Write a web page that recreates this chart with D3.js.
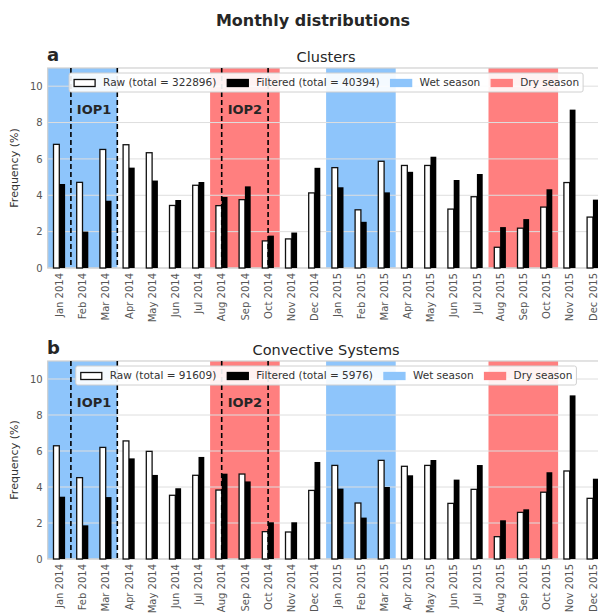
<!DOCTYPE html>
<html>
<head>
<meta charset="utf-8">
<script src="https://cdn.jsdelivr.net/npm/d3@7"></script>
<style>
  body { margin: 0; background: #fff; }
  svg { display: block; font-family: "DejaVu Sans", sans-serif; }
</style>
</head>
<body>
<svg id="chart" width="598" height="613"></svg>
<script>
var months = ["Jan 2014", "Feb 2014", "Mar 2014", "Apr 2014", "May 2014", "Jun 2014",
              "Jul 2014", "Aug 2014", "Sep 2014", "Oct 2014", "Nov 2014", "Dec 2014",
              "Jan 2015", "Feb 2015", "Mar 2015", "Apr 2015", "May 2015", "Jun 2015",
              "Jul 2015", "Aug 2015", "Sep 2015", "Oct 2015", "Nov 2015", "Dec 2015"];

// Frequency (%) per month
var rawClusters = [6.80, 4.71, 6.52, 6.78, 6.34, 3.44, 4.55, 3.43, 3.76, 1.49, 1.60, 4.13,
                   5.52, 3.20, 5.87, 5.64, 5.64, 3.24, 3.92, 1.14, 2.19, 3.35, 4.70, 2.80];
var filtClusters = [4.62, 2.00, 3.70, 5.52, 4.81, 3.74, 4.73, 3.91, 4.49, 1.78, 1.95, 5.51,
                    4.44, 2.54, 4.16, 5.29, 6.12, 4.84, 5.17, 2.25, 2.69, 4.33, 8.71, 3.76];
var rawCS = [6.29, 4.52, 6.20, 6.56, 5.98, 3.54, 4.65, 3.83, 4.72, 1.52, 1.50, 3.81,
             5.20, 3.11, 5.48, 5.15, 5.20, 3.09, 3.87, 1.24, 2.59, 3.71, 4.89, 3.37];
var filtCS = [3.46, 1.87, 3.44, 5.59, 4.67, 3.93, 5.67, 4.74, 4.31, 2.04, 2.04, 5.39,
              3.91, 2.30, 4.00, 4.65, 5.50, 4.41, 5.22, 2.15, 2.76, 4.82, 9.09, 4.46];

var totals = { clusters: [322896, 40394], cs: [91609, 5976] };

// season spans and IOP limits, in month-index units
var wetSeasons = [[-0.5, 2.5], [11.5, 14.5]];
var drySeasons = [[6.5, 9.5], [18.5, 21.5]];
var iops = [{ name: "IOP1", from: 0.5, to: 2.5 }, { name: "IOP2", from: 7, to: 9 }];
var yTicks = [0, 2, 4, 6, 8, 10];

var svg = d3.select("#chart"),
    wetColor = "#8ec5fb",
    dryColor = "#ff7f7f",
    barW = 0.25;

var x = d3.scaleLinear().domain([-0.5, 23.5]).range([47.7, 604.5]);

svg.append("text")
    .attr("x", 313).attr("y", 26)
    .attr("text-anchor", "middle")
    .style("font-size", "16px").style("font-weight", "bold").style("fill", "#262626")
    .text("Monthly distributions");

drawPanel({ top: 68, bottom: 268, letter: "a", title: "Clusters",
            raw: rawClusters, filt: filtClusters, totals: totals.clusters, labels: true });
drawPanel({ top: 361, bottom: 559, letter: "b", title: "Convective Systems",
            raw: rawCS, filt: filtCS, totals: totals.cs, labels: true });

/*=====================================================================================================
                                         Draw Functions
======================================================================================================*/
function drawPanel(p) {
    var y = d3.scaleLinear().domain([0, 11]).range([p.bottom, p.top]);
    var g = svg.append("g");
    var x0 = x.range()[0], x1 = x.range()[1];

    // seasons
    g.selectAll("rect.wet").data(wetSeasons).enter().append("rect")
        .attr("x", d => x(d[0])).attr("width", d => x(d[1]) - x(d[0]))
        .attr("y", p.top).attr("height", p.bottom - p.top)
        .attr("fill", wetColor);
    g.selectAll("rect.dry").data(drySeasons).enter().append("rect")
        .attr("x", d => x(d[0])).attr("width", d => x(d[1]) - x(d[0]))
        .attr("y", p.top).attr("height", p.bottom - p.top)
        .attr("fill", dryColor);

    // grid
    g.selectAll("line.grid").data(yTicks).enter().append("line")
        .attr("x1", x0).attr("x2", x1)
        .attr("y1", d => y(d)).attr("y2", d => y(d))
        .attr("stroke", "#dedede").attr("stroke-width", 1);

    // frame
    g.append("rect")
        .attr("x", x0).attr("y", p.top)
        .attr("width", x1 - x0).attr("height", p.bottom - p.top)
        .attr("fill", "none").attr("stroke", "#d0d0d0").attr("stroke-width", 1.2);

    // bars
    g.selectAll("rect.raw").data(p.raw).enter().append("rect")
        .attr("x", (d, i) => x(i - barW))
        .attr("width", x(barW) - x(0))
        .attr("y", d => y(d)).attr("height", d => y(0) - y(d))
        .attr("fill", "#fff").attr("stroke", "#111").attr("stroke-width", 1.3);
    g.selectAll("rect.filt").data(p.filt).enter().append("rect")
        .attr("x", (d, i) => x(i))
        .attr("width", x(barW) - x(0))
        .attr("y", d => y(d)).attr("height", d => y(0) - y(d))
        .attr("fill", "#000");

    // IOP limits
    iops.forEach(function(o) {
        [o.from, o.to].forEach(function(v) {
            g.append("line")
                .attr("x1", x(v)).attr("x2", x(v))
                .attr("y1", p.top).attr("y2", p.bottom)
                .attr("stroke", "#000").attr("stroke-width", 1.6)
                .attr("stroke-dasharray", "5,3");
        });
        g.append("text")
            .attr("x", x((o.from + o.to) / 2)).attr("y", y(8.7))
            .attr("dy", "0.35em").attr("text-anchor", "middle")
            .style("font-size", "13px").style("font-weight", "bold").style("fill", "#262626")
            .text(o.name);
    });

    // axes
    var ya = g.append("g").attr("transform", "translate(" + x0 + ",0)")
        .call(d3.axisLeft(y).tickValues(yTicks).tickSize(0).tickPadding(5));
    ya.select(".domain").remove();
    ya.selectAll("text").style("font-size", "10px").style("fill", "#555")
        .style("font-family", "DejaVu Sans, sans-serif");

    var xa = g.append("g").attr("transform", "translate(0," + p.bottom + ")")
        .call(d3.axisBottom(x).tickValues(d3.range(months.length)).tickFormat(i => months[i]).tickSize(0));
    xa.select(".domain").remove();
    xa.selectAll("text")
        .attr("transform", "rotate(-90)")
        .attr("x", -5).attr("y", 0).attr("dy", "0.32em")
        .style("text-anchor", "end")
        .style("font-size", "10px").style("fill", "#555")
        .style("font-family", "DejaVu Sans, sans-serif");

    g.append("text")
        .attr("transform", "translate(18," + ((p.top + p.bottom) / 2) + ") rotate(-90)")
        .attr("text-anchor", "middle")
        .style("font-size", "11px").style("fill", "#333")
        .text("Frequency (%)");

    // titles
    g.append("text")
        .attr("x", (x0 + x1) / 2).attr("y", p.top - 6.5)
        .attr("text-anchor", "middle")
        .style("font-size", "14.5px").style("fill", "#262626")
        .text(p.title);
    g.append("text")
        .attr("x", 47).attr("y", p.top - 7)
        .style("font-size", "18px").style("font-weight", "bold").style("fill", "#262626")
        .text(p.letter);

    drawLegend(g, p, (x0 + x1) / 2, p.top + 5);
}

function drawLegend(g, p, cx, top) {
    var items = [
        { label: "Raw (total = " + p.totals[0] + ")", fill: "#fff", stroke: "#111" },
        { label: "Filtered (total = " + p.totals[1] + ")", fill: "#000", stroke: "#000" },
        { label: "Wet season", fill: wetColor, stroke: wetColor },
        { label: "Dry season", fill: dryColor, stroke: dryColor }
    ];
    var lg = g.append("g");
    var box = lg.append("rect")
        .attr("y", top).attr("height", 19).attr("rx", 2)
        .attr("fill", "rgba(255,255,255,0.9)").attr("stroke", "#d0d0d0");
    var cursor = 5;
    items.forEach(function(it) {
        lg.append("rect")
            .attr("x", cursor).attr("y", top + 6.5)
            .attr("width", 21).attr("height", 7)
            .attr("fill", it.fill).attr("stroke", it.stroke).attr("stroke-width", 1.3);
        var t = lg.append("text")
            .attr("x", cursor + 29).attr("y", top + 9.5).attr("dy", "0.35em")
            .style("font-size", "10.5px").style("fill", "#333")
            .text(it.label);
        cursor += 29 + t.node().getComputedTextLength() + 11;
    });
    var w = cursor - 11 + 4;
    box.attr("x", 0).attr("width", w);
    lg.attr("transform", "translate(" + (cx - w / 2) + ",0)");
}
</script>
</body>
</html>
